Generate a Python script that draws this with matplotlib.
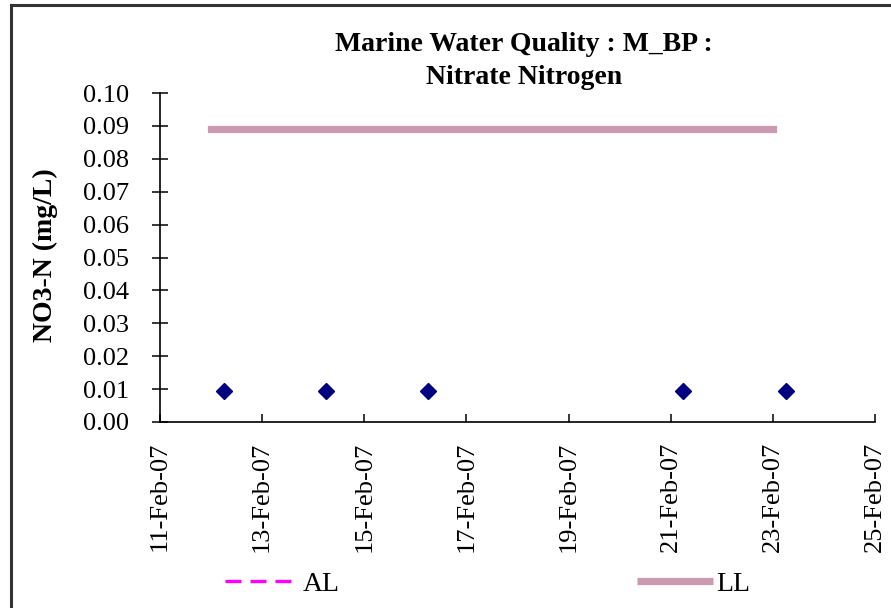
import matplotlib
matplotlib.use("Agg")
import matplotlib.pyplot as plt
import matplotlib.dates as mdates
from matplotlib.lines import Line2D
import pandas as pd

plt.rcParams['font.family'] = ['Liberation Serif', 'DejaVu Serif']

sample_dates = pd.to_datetime(["2007-02-12 06:00", "2007-02-14 06:00", "2007-02-16 06:00",
                               "2007-02-21 06:00", "2007-02-23 06:00"])
no3_values = [0.0095, 0.0095, 0.0095, 0.0095, 0.0095]

ll_dates = pd.to_datetime(["2007-02-12", "2007-02-23"])
ll_values = [0.089, 0.089]

x_start = pd.Timestamp("2007-02-11")
x_end = pd.Timestamp("2007-02-25")
y_ticks = [0.00, 0.01, 0.02, 0.03, 0.04, 0.05, 0.06, 0.07, 0.08, 0.09, 0.10]

W, H = 891, 608
fig = plt.figure(figsize=(W / 100, H / 100), dpi=100)
ax = fig.add_axes([160 / W, (H - 422) / H, (875 - 160) / W, (422 - 93) / H])

ax.plot(ll_dates, ll_values, color='#cc99b3', linewidth=5.2, solid_capstyle='projecting', zorder=2)
ax.plot(sample_dates, no3_values, linestyle='none', marker='D', markersize=8.5,
        color='#000080', zorder=3)

ax.set_xlim(x_start, x_end)
ax.set_ylim(0, 0.10)
ax.set_yticks(y_ticks)
ax.set_yticklabels([f"{v:.2f}" for v in y_ticks])
ax.xaxis.set_major_locator(mdates.DayLocator(interval=2))
ax.xaxis.set_major_formatter(mdates.DateFormatter('%d-%b-%y'))
for lab in ax.get_xticklabels():
    lab.set_rotation(90)

ax.spines['top'].set_visible(False)
ax.spines['right'].set_visible(False)
ax.spines['left'].set_linewidth(1.2)
ax.spines['bottom'].set_linewidth(1.2)
ax.tick_params(axis='y', direction='inout', length=12, width=1.1, labelsize=19, pad=16)
ax.tick_params(axis='x', direction='in', length=6, width=1.1, labelsize=19, pad=14)

ax.set_ylabel('NO3-N (mg/L)', fontsize=20, fontweight='bold')
ax.yaxis.set_label_coords(58 / W, 1 - 255 / H, transform=fig.transFigure)
fig.text(524 / W, 1 - 61 / H, 'Marine Water Quality : M_BP :\nNitrate Nitrogen',
         ha='center', va='center', fontsize=20, fontweight='bold', linespacing=1.4)

al_handle = Line2D([], [], color='#ff00ff', linestyle=(0, (4.8, 2.7)), linewidth=2.4)
ll_handle = Line2D([], [], color='#cc99b3', linewidth=5.2, solid_capstyle='butt')
leg1 = fig.legend([al_handle], ['AL'], loc='center left', bbox_to_anchor=(225 / W, 1 - 584 / H),
                  frameon=False, fontsize=20, handlelength=2.37, handletextpad=0.43,
                  borderaxespad=0, borderpad=0)
leg2 = fig.legend([ll_handle], ['LL'], loc='center left', bbox_to_anchor=(637 / W, 1 - 584 / H),
                  frameon=False, fontsize=20, handlelength=2.73, handletextpad=0.12,
                  borderaxespad=0, borderpad=0)

fig.add_artist(Line2D([11 / W, 11 / W], [0, 1 - 5 / H], transform=fig.transFigure,
                      color='#333333', linewidth=2.2))
fig.add_artist(Line2D([11 / W, 1], [1 - 5 / H, 1 - 5 / H], transform=fig.transFigure,
                      color='#333333', linewidth=2.2))

fig.savefig('out.png', dpi=100)
